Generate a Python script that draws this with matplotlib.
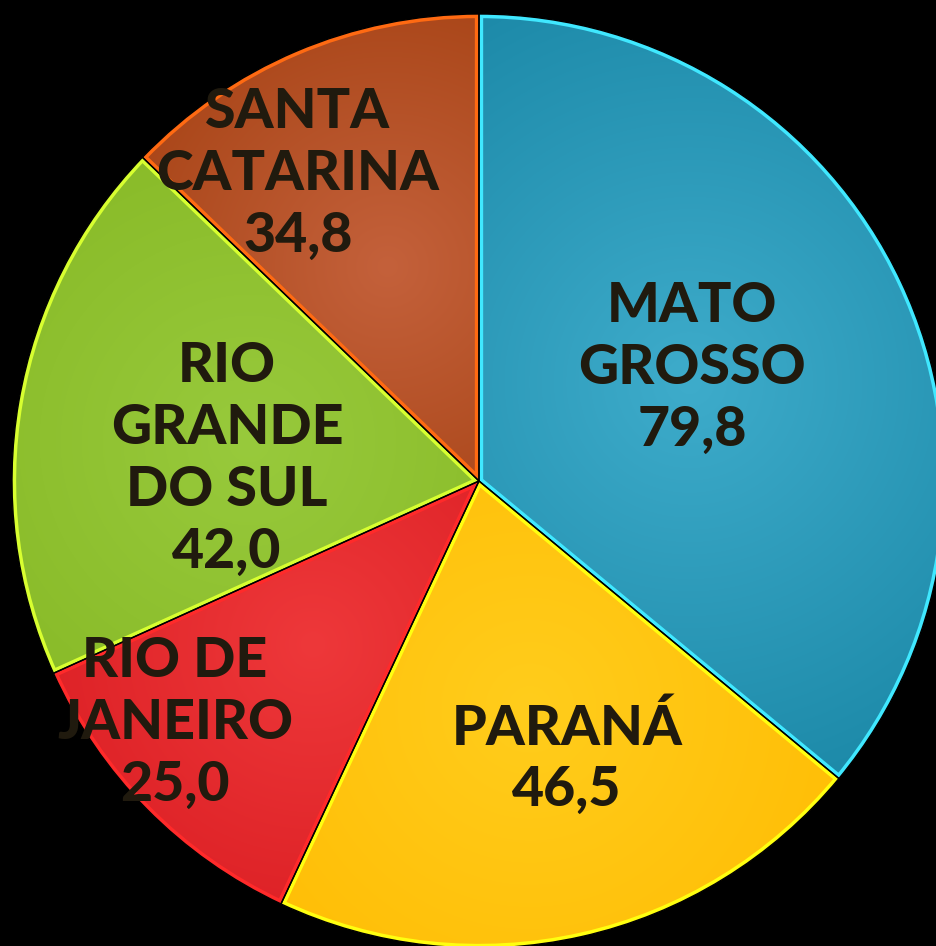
import numpy as np
import matplotlib
matplotlib.use('Agg')
import matplotlib.pyplot as plt
from matplotlib.patches import Wedge
from matplotlib.colors import to_rgb

# data
states = ['MATO\nGROSSO', 'PARANÁ', 'RIO DE\nJANEIRO', 'RIO\nGRANDE\nDO SUL', 'SANTA\nCATARINA']
value_labels = ['79,8', '46,5', '25,0', '42,0', '34,8']
# slice sizes as drawn in the picture (Santa Catarina's slice is smaller than its label)
slice_sizes = [79.8, 46.5, 25.0, 42.0, 28.4]

# style
light = ['#3eaccb', '#ffcd1c', '#ee383a', '#98ca3c', '#c4613b']
dark = ['#1d8aa9', '#ffba00', '#d5161c', '#84b622', '#9c3807']
edges = ['#40e8ff', '#ffff10', '#ff2a2a', '#d8ff30', '#ff6a12']
label_r = [0.517, 0.624, 0.832, 0.542, 0.763]
label_shift = [2.8, 4.9, -6.1, 4.7, 7.5]
text_color = '#201a0e'

W, H = 937, 946
cx, cy, R = 479, 481, 467

fig = plt.figure(figsize=(W / 100, H / 100), dpi=100, facecolor='black')
ax = fig.add_axes([0, 0, 1, 1])
ax.set_facecolor('black')

wedges, _ = ax.pie(slice_sizes, startangle=90, counterclock=False, radius=1.0,
                   colors=dark, wedgeprops=dict(linewidth=0))
ax.set_aspect('auto')
ax.axis('off')

# radial shading inside each wedge
xs = np.linspace(-cx / R, (W - cx) / R, 400)
ys = np.linspace(cy / R, -(H - cy) / R, 400)
gx, gy = np.meshgrid(xs, ys)
for i, w in enumerate(wedges):
    mid = np.deg2rad((w.theta1 + w.theta2) / 2)
    px, py = 0.5 * np.cos(mid), 0.5 * np.sin(mid)
    d = np.sqrt((gx - px) ** 2 + (gy - py) ** 2)
    t = np.clip(d / 0.9, 0, 1)[..., None]
    img = (1 - t) * np.array(to_rgb(light[i])) + t * np.array(to_rgb(dark[i]))
    im = ax.imshow(img, extent=(xs[0], xs[-1], ys[-1], ys[0]), zorder=2,
                   interpolation='bilinear', aspect='auto')
    im.set_clip_path(w)

# inner bright rim clipped to each wedge, then thin black separators
for i, w in enumerate(wedges):
    rim = Wedge((0, 0), 1.0, w.theta1, w.theta2, facecolor='none',
                edgecolor=edges[i], linewidth=6, zorder=3)
    ax.add_patch(rim)
    rim.set_clip_path(w)
for w in wedges:
    sep = Wedge((0, 0), 1.0, w.theta1, w.theta2, facecolor='none',
                edgecolor='black', linewidth=1.0, zorder=4)
    ax.add_patch(sep)

ax.set_xlim(-cx / R, (W - cx) / R)
ax.set_ylim(-(H - cy) / R, cy / R)

# labels
step = 62 / R
for i, w in enumerate(wedges):
    ang = np.deg2rad((w.theta1 + w.theta2) / 2 + label_shift[i])
    lx, ly = label_r[i] * np.cos(ang), label_r[i] * np.sin(ang)
    lines = states[i].split('\n') + [value_labels[i]]
    n = len(lines)
    for k, line in enumerate(lines):
        yy = ly + ((n - 1) / 2 - k) * step
        ax.text(lx, yy, line, ha='center', va='center', fontsize=40,
                fontweight='black', family=['Lato', 'DejaVu Sans'],
                color=text_color, zorder=5)

fig.savefig('out.png', dpi=100, facecolor='black')
